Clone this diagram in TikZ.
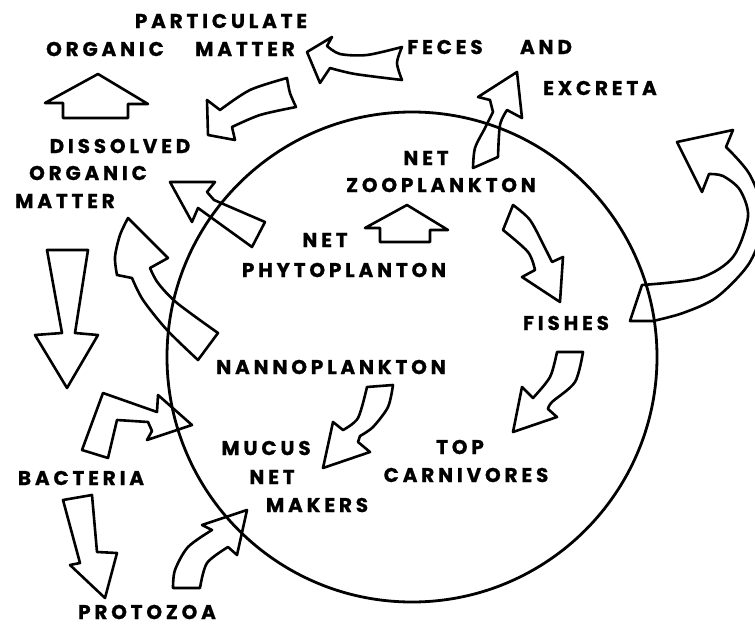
\documentclass[tikz,border=0pt]{standalone}
\usepackage{fontspec}
\newfontfamily\labfont{Poppins}[LetterSpace=19, BoldFeatures={FakeBold=0.8}]
\begin{document}
\begin{tikzpicture}[x=1pt,y=-1pt,
  lab/.style={font=\labfont\bfseries\fontsize{20}{20}\selectfont, inner sep=0pt},
  blk/.style={line width=2.6pt, line join=round},
  rim/.style={line width=2.8pt}]
\useasboundingbox (0,0) rectangle (755,626);
\clip (0,0) rectangle (755,626);
% circle
\draw[rim] (412,357) circle [radius=245pt];
% labels
\node[lab] (part) at (221,21) {PARTICULATE};
\node[lab] (org1) at (105,49) {ORGANIC};
\node[lab] (mat1) at (245,49) {MATTER};
\node[lab] (fec) at (445,47) {FECES};
\node[lab] (and) at (546,47) {AND};
\node[lab] (exc) at (600,88) {EXCRETA};
\node[lab] (dis) at (120,146) {DISSOLVED};
\node[lab] (org2) at (88,173) {ORGANIC};
\node[lab] (mat2) at (65,201) {MATTER};
\node[lab] (net1) at (426,158) {NET};
\node[lab] (zoo) at (441,185) {ZOOPLANKTON};
\node[lab] (net2) at (325,240) {NET};
\node[lab] (phy) at (344,270) {PHYTOPLANTON};
\node[lab] (nan) at (331,367) {NANNOPLANKTON};
\node[lab] (fish) at (566,323) {FISHES};
\node[lab] (top) at (460,447) {TOP};
\node[lab] (carn) at (466,475) {CARNIVORES};
\node[lab] (muc) at (266,448) {MUCUS};
\node[lab] (net3) at (272,477) {NET};
\node[lab] (mak) at (317,505) {MAKERS};
\node[lab] (bac) at (81,478) {BACTERIA};
\node[lab] (pro) at (147,612) {PROTOZOA};
% A1 up arrow DOM -> POM
\draw[blk] (98,74) -- (148,104) -- (128,104) -- (128,118) -- (63,118) -- (63,103) -- (45,103) -- cycle;
% A2 feces -> POM
\draw[blk] (307,52) -- (332,37) -- (327,46)
  -- plot[smooth] coordinates {(327,46) (340,54) (367,55) (402,47)}
  -- plot[smooth] coordinates {(402,47) (397,63) (402,80)}
  -- plot[smooth] coordinates {(402,80) (355,74) (330,68)}
  -- (320,83) -- cycle;
% A3 -> DOM
\draw[blk] (208,135) -- (207,100) -- (220,110)
  -- plot[smooth] coordinates {(220,110) (250,90) (287,78)}
  -- plot[smooth] coordinates {(287,78) (290,93) (296,107)}
  -- plot[smooth] coordinates {(296,107) (260,115) (232,127)}
  -- (235,140) -- cycle;
% A4 circle -> DOM
\draw[blk] (170,182) -- (215,182) -- (207,192) -- (214,200) -- (265,222) -- (252,247) -- (198,208) -- (192,222) -- cycle;
% A5 nanno -> DOM
\draw[blk] (128,218) -- (168,258) -- (150,268)
  -- plot[smooth] coordinates {(150,268) (158,283) (177,303) (218,333)}
  -- (198,360)
  -- plot[smooth] coordinates {(198,360) (167,330) (143,300) (132,278)}
  -- (117,275)
  -- plot[smooth] coordinates {(117,275) (115,257) (120,235) (128,218)}
  -- cycle;
% A6 DOM -> bacteria
\draw[blk] (47,250) -- (88,250) -- (75,333) -- (98,335) -- (67,388) -- (35,335) -- (62,333) -- cycle;
% A7 bacteria -> circle
\draw[blk] (103,393) -- (157,412) -- (158,395) -- (192,425) -- (147,440) -- (152,431) -- (148,422) -- (117,420) -- (108,458) -- (82,450) -- cycle;
% A8 bacteria -> protozoa
\draw[blk] (63,500) -- (92,495) -- (97,552) -- (117,553) -- (105,598) -- (70,565) -- (80,563) -- cycle;
% A9 protozoa -> mucus net makers
\draw[blk] (173,588) -- (200,588)
  -- plot[smooth] coordinates {(200,588) (207,563) (228,547)}
  -- (237,555) -- (247,510) -- (202,525) -- (212,530)
  -- plot[smooth] coordinates {(212,530) (188,547) (175,570) (173,588)}
  -- cycle;
% A10 nanno -> mucus
\draw[blk] (367,387) -- (393,385)
  -- plot[smooth] coordinates {(393,385) (388,407) (373,427) (360,436)}
  -- (358,442) -- (370,452) -- (323,468) -- (333,422) -- (343,430)
  -- plot[smooth] coordinates {(343,430) (358,418) (367,387)}
  -- cycle;
% A11 fishes -> top carnivores
\draw[blk] (557,352) -- (583,352)
  -- plot[smooth] coordinates {(583,352) (575,382) (552,402) (548,409)}
  -- (557,417) -- (513,432) -- (522,387) -- (533,398)
  -- plot[smooth] coordinates {(533,398) (550,377) (557,352)}
  -- cycle;
% A12 zoo -> fishes
\draw[blk] (503,230) -- (513,205)
  -- plot[smooth] coordinates {(513,205) (530,220) (545,248) (552,262)}
  -- (563,257) -- (560,302) -- (522,277) -- (535,270)
  -- plot[smooth] coordinates {(535,270) (528,252) (503,230)}
  -- cycle;
% A13 phyto -> zoo
\draw[blk] (407,205) -- (448,230) -- (430,230) -- (430,242) -- (380,242) -- (380,228) -- (365,228) -- cycle;
% A14 zoo -> feces
\draw[blk] (517,72) -- (522,118) -- (507,110)
  -- plot[smooth] coordinates {(507,110) (500,125) (498,157)}
  -- (473,168)
  -- plot[smooth] coordinates {(473,168) (475,148) (485,128) (493,112)}
  -- (490,100) -- (478,97) -- cycle;
% A15 loop out of the circle
\draw[blk] (642,285)
  -- plot[smooth] coordinates {(642,285) (700,278) (733,257) (748,217) (740,190) (723,176) (709,174)}
  -- (702,192) -- (677,142) -- (733,130) -- (726,147)
  -- plot[smooth] coordinates {(726,147) (750,175) (764,218) (750,262) (717,297) (683,313) (653,321)}
  -- (630,321) -- cycle;
\end{tikzpicture}
\end{document}
